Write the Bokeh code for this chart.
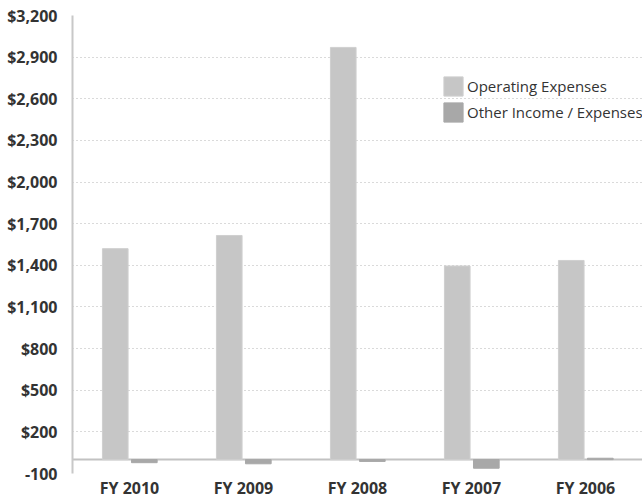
from bokeh.plotting import figure
from bokeh.models import (ColumnDataSource, FactorRange, Range1d, FixedTicker,
                          Span, Legend, LegendItem)
from bokeh.transform import dodge
from bokeh.embed import file_html
from bokeh.resources import INLINE

# Fiscal years shown along the category axis
years = ["FY 2010", "FY 2009", "FY 2008", "FY 2007", "FY 2006"]

# Values in $ (same units as the axis)
operating_expenses = [1520, 1615, 2970, 1395, 1435]
other_income_expenses = [-22, -30, -13, -62, 10]

# Value-axis ticks and their labels
y_ticks = [-100, 200, 500, 800, 1100, 1400, 1700, 2000, 2300, 2600, 2900, 3200]
y_tick_labels = ["-100", "$200", "$500", "$800", "$1,100", "$1,400", "$1,700",
                 "$2,000", "$2,300", "$2,600", "$2,900", "$3,200"]

source = ColumnDataSource(data=dict(
    year=years,
    operating=operating_expenses,
    other=other_income_expenses,
))

FONT = "Open Sans"
TEXT = "#333333"

p = figure(
    frame_width=570, frame_height=458,
    x_range=FactorRange(*years),
    y_range=Range1d(-100, 3200),
    output_backend="svg",
    toolbar_location=None,
    min_border_left=72, min_border_right=0,
    min_border_top=15, min_border_bottom=27,
    outline_line_color=None,
    background_fill_color="white",
    border_fill_color="white",
)

op = p.vbar(x=dodge("year", -0.125, range=p.x_range), top="operating", bottom=0,
            width=0.225, source=source, fill_color="#c6c6c6",
            line_color="#cfcfcf", line_width=1)
oth = p.vbar(x=dodge("year", 0.13, range=p.x_range), top="other", bottom=0,
             width=0.225, source=source, fill_color="#a8a8a8",
             line_color="#a8a8a8", line_width=1)

# Baseline at zero
p.add_layout(Span(location=0, dimension="width", line_color="#c2c2c2",
                  line_width=2, level="underlay"))

# Value axis
p.yaxis.ticker = FixedTicker(ticks=y_ticks)
p.yaxis.major_label_overrides = {t: l for t, l in zip(y_ticks, y_tick_labels)}
p.yaxis.axis_line_color = "#c8c8c8"
p.yaxis.axis_line_width = 2
p.yaxis.major_tick_line_color = None
p.yaxis.minor_tick_line_color = None
p.yaxis.major_label_standoff = 9
p.yaxis.major_label_text_font = FONT
p.yaxis.major_label_text_font_style = "bold"
p.yaxis.major_label_text_font_size = "16px"
p.yaxis.major_label_text_color = TEXT

# Category axis
p.xaxis.axis_line_color = None
p.xaxis.major_tick_line_color = None
p.xaxis.minor_tick_line_color = None
p.xaxis.major_label_standoff = -3
p.xaxis.major_label_text_font = FONT
p.xaxis.major_label_text_font_style = "bold"
p.xaxis.major_label_text_font_size = "16px"
p.xaxis.major_label_text_color = TEXT

# Dotted horizontal gridlines only
p.xgrid.visible = False
p.ygrid.grid_line_color = "#b4b4b4"
p.ygrid.grid_line_dash = "1 3"
p.ygrid.grid_line_width = 1

legend = Legend(
    items=[LegendItem(label="Operating Expenses", renderers=[op]),
           LegendItem(label="Other Income / Expenses", renderers=[oth])],
    location=(369, 349),
    orientation="vertical",
    glyph_width=24, glyph_height=24,
    label_standoff=2, spacing=2,
    padding=0, margin=0,
    border_line_color=None,
    background_fill_alpha=0,
    label_text_font=FONT,
    label_text_font_size="15px",
    label_text_color=TEXT,
    label_height=24,
)
p.add_layout(legend)

open("out.html", "w").write(file_html(p, INLINE))
